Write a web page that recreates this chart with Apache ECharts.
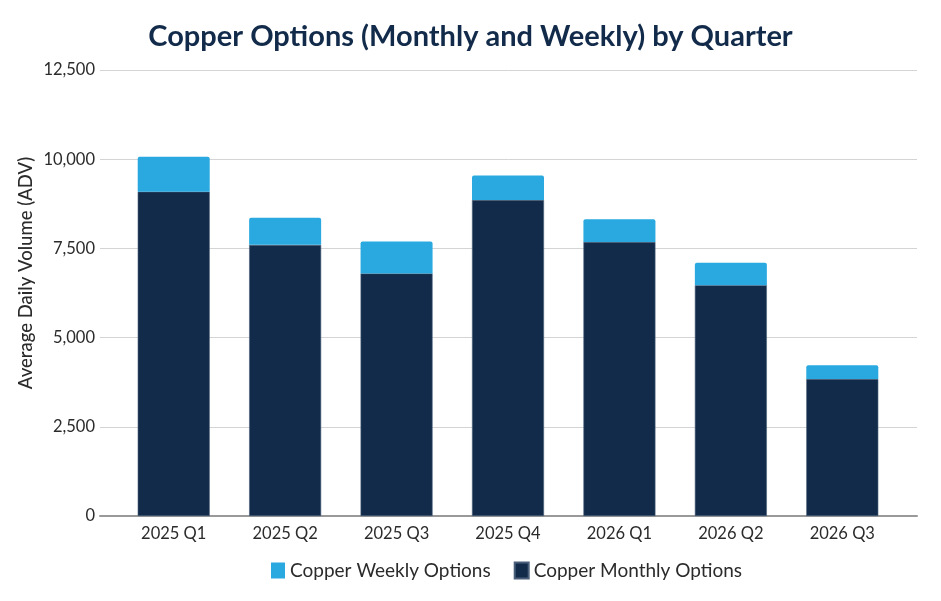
<!DOCTYPE html>
<html>
<head>
<meta charset="utf-8">
<script src="https://cdn.jsdelivr.net/npm/echarts@6/dist/echarts.min.js"></script>
<style>
  html, body { margin: 0; padding: 0; background: #fff; }
  #chart { width: 941px; height: 601px; }
</style>
</head>
<body>
<div id="chart"></div>
<script>
// quarters and values (ADV)
var quarters = ['2025 Q1', '2025 Q2', '2025 Q3', '2025 Q4', '2026 Q1', '2026 Q2', '2026 Q3']
var monthly = [9090, 7600, 6800, 8855, 7680, 6470, 3840]
var weekly = [980, 760, 890, 685, 640, 625, 385]
var yTicks = [0, 2500, 5000, 7500, 10000, 12500]

var navy = '#122B4A'
var blue = '#29A9E0'
var font = 'Lato'

var chart = echarts.init(document.getElementById('chart'))
chart.setOption({
    animation: false,
    textStyle: {fontFamily: font},
    title: {
        text: 'Copper Options (Monthly and Weekly) by Quarter',
        left: 'center',
        top: 17,
        textStyle: {fontFamily: font, fontSize: 29, fontWeight: 'bold', color: navy}
    },
    legend: {
        data: ['Copper Weekly Options', 'Copper Monthly Options'],
        bottom: 16,
        left: 266,
        icon: 'rect',
        itemWidth: 14,
        itemHeight: 16,
        itemGap: 23,
        textStyle: {fontFamily: font, fontSize: 19, color: '#2b2b2b'}
    },
    // grid 0: gridlines and axis line, grid 1: bars
    grid: [
        {left: 100, right: 24, top: 70, bottom: 85},
        {left: 118, right: 43, top: 70, bottom: 85}
    ],
    xAxis: [
        {
            type: 'category', gridIndex: 0, data: quarters,
            axisLine: {lineStyle: {color: '#999', width: 2}},
            axisTick: {show: false},
            axisLabel: {show: false}
        },
        {
            type: 'category', gridIndex: 1, data: quarters,
            axisLine: {show: false},
            axisTick: {show: false},
            axisLabel: {fontFamily: font, fontSize: 16.5, color: '#2b2b2b', margin: 9}
        }
    ],
    yAxis: [
        {
            type: 'value', gridIndex: 0,
            min: yTicks[0], max: yTicks[yTicks.length - 1], interval: 2500,
            name: 'Average Daily Volume (ADV)',
            nameLocation: 'middle',
            nameGap: 64,
            nameMoveOverlap: false,
            nameTextStyle: {fontFamily: font, fontSize: 18.5, fontWeight: 500, color: '#2b2b2b', padding: [0, 0, 0, 40]},
            axisLine: {show: false},
            axisTick: {show: false},
            axisLabel: {
                fontFamily: font, fontSize: 16.5, color: '#2b2b2b', margin: 5,
                formatter: function (v) { return v.toLocaleString('en-US') }
            },
            splitLine: {lineStyle: {color: '#d4d4d4', width: 1}}
        },
        {
            type: 'value', gridIndex: 1,
            min: yTicks[0], max: yTicks[yTicks.length - 1], interval: 2500,
            show: false,
            splitLine: {show: false}
        }
    ],
    series: [
        {
            name: 'Copper Monthly Options',
            type: 'bar', stack: 'total',
            xAxisIndex: 1, yAxisIndex: 1,
            barWidth: 72,
            data: monthly,
            itemStyle: {color: navy, borderColor: '#4a5f7a', borderWidth: 0.6}
        },
        {
            name: 'Copper Weekly Options',
            type: 'bar', stack: 'total',
            xAxisIndex: 1, yAxisIndex: 1,
            barWidth: 72,
            data: weekly,
            itemStyle: {color: blue, borderRadius: [2, 2, 0, 0]}
        }
    ]
})
</script>
</body>
</html>
